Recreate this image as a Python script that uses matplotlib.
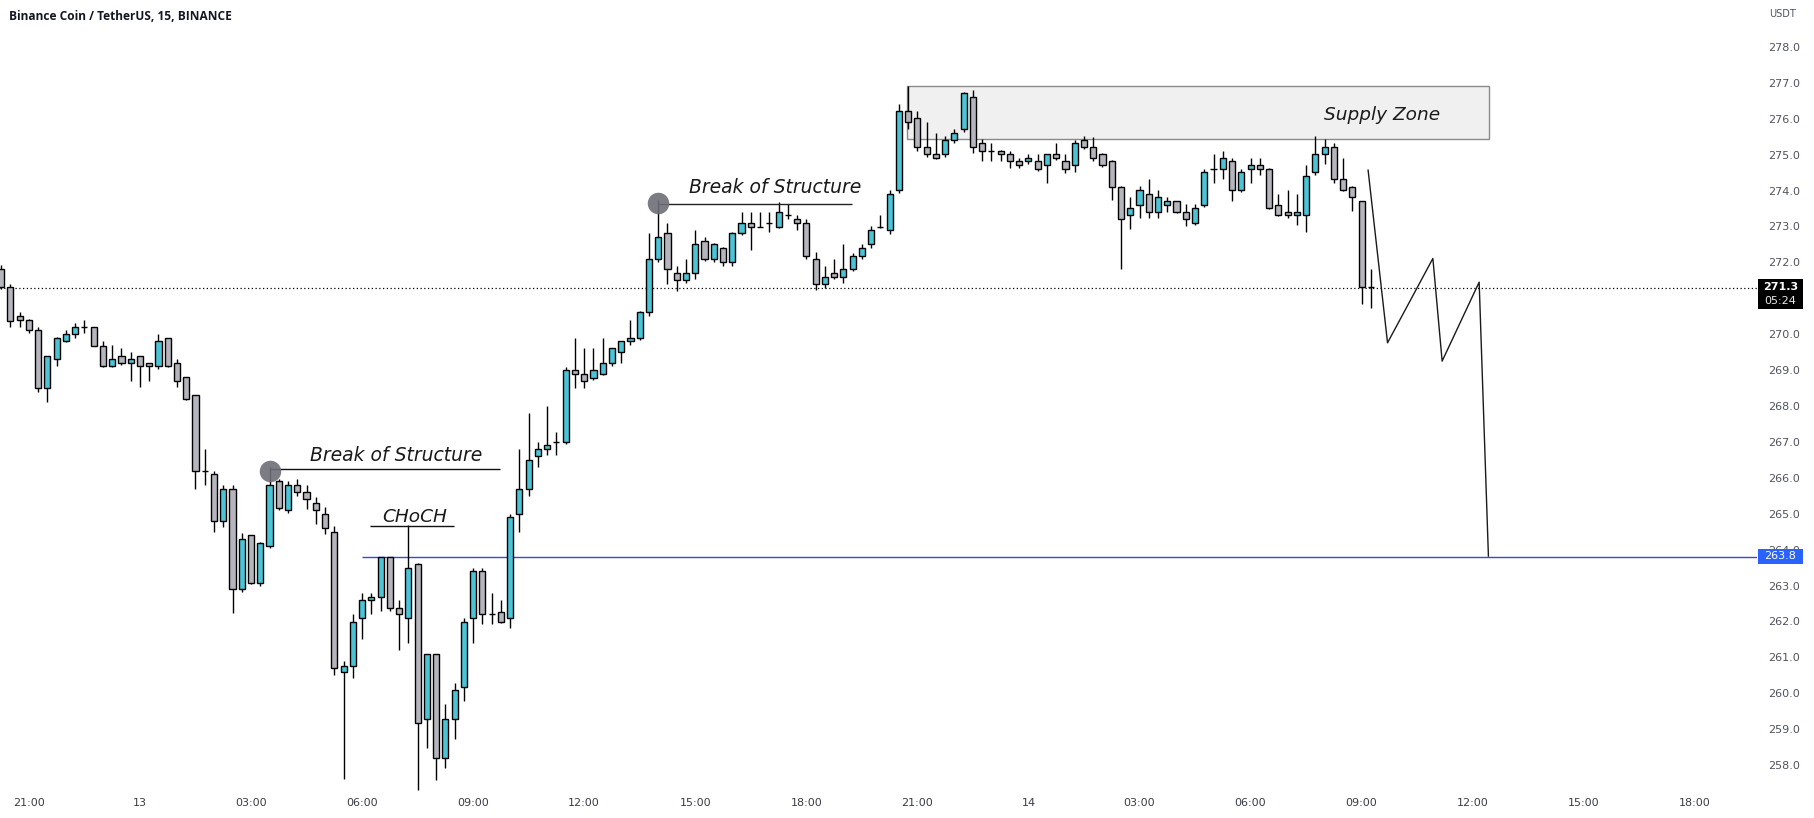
import numpy as np
import matplotlib
matplotlib.use("Agg")
import matplotlib.pyplot as plt
from matplotlib.patches import Rectangle
import matplotlib.transforms as mtransforms

# ---------------- data ----------------
first_index = -3  # candle index relative to 21:00 (day 12), 15-minute bars

opens = [
    271.81, 271.31, 270.50, 270.39, 270.11, 268.49, 269.30, 269.80, 270.00, 270.19,
    270.19, 269.68, 269.11, 269.38, 269.19, 269.38, 269.19, 269.11, 269.89, 269.19,
    268.80, 268.30, 266.18, 266.10, 264.79, 265.68, 262.89, 264.40, 263.08, 264.10,
    265.90, 265.09, 265.79, 265.60, 265.29, 264.98, 264.48, 260.58, 260.77, 262.09,
    262.59, 262.67, 263.79, 262.38, 262.09, 263.59, 259.27, 261.08, 258.19, 259.27,
    260.18, 262.09, 263.39, 262.20, 262.27, 262.09, 264.98, 265.68, 266.60, 266.79,
    266.99, 266.99, 269.00, 268.88, 268.79, 268.88, 269.19, 269.50, 269.80, 269.89,
    270.61, 272.09, 272.81, 271.70, 271.50, 271.70, 272.59, 272.09, 272.39, 272.00,
    272.81, 273.09, 273.00, 273.11, 273.00, 273.31, 273.20, 273.09, 272.09, 271.39,
    271.70, 271.59, 271.81, 272.19, 272.50, 273.00, 272.90, 274.01, 276.21, 276.01,
    275.21, 275.01, 275.01, 275.40, 275.71, 276.60, 275.32, 275.09, 275.09, 275.01,
    274.82, 274.82, 274.82, 274.70, 275.01, 274.82, 274.70, 275.40, 275.21, 275.01,
    274.82, 274.09, 273.31, 273.59, 273.90, 273.40, 273.59, 273.70, 273.40, 273.09,
    273.59, 274.59, 274.59, 274.82, 274.01, 274.59, 274.70, 274.59, 273.59, 273.40,
    273.31, 273.31, 274.51, 275.01, 275.21, 274.31, 274.09, 273.70, 271.31,
]
highs = [
    271.92, 271.39, 270.62, 270.42, 270.19, 269.40, 269.92, 270.12, 270.32, 270.40,
    270.20, 269.81, 269.70, 269.61, 269.50, 269.40, 269.21, 270.00, 269.90, 269.31,
    268.82, 268.32, 266.79, 266.19, 265.80, 265.80, 264.47, 264.42, 264.20, 266.31,
    265.97, 265.91, 265.97, 265.80, 265.47, 265.18, 264.66, 260.91, 262.20, 262.78,
    262.80, 263.80, 263.80, 262.59, 264.69, 263.62, 261.10, 261.10, 259.70, 260.28,
    262.09, 263.48, 263.48, 262.78, 262.59, 264.98, 266.79, 267.80, 266.99, 268.00,
    267.28, 269.09, 269.90, 269.62, 269.62, 269.90, 269.62, 269.82, 270.40, 270.65,
    272.83, 273.74, 273.11, 271.90, 272.09, 272.90, 272.70, 272.55, 272.42, 272.85,
    273.40, 273.40, 273.40, 273.40, 273.69, 273.63, 273.31, 273.20, 272.30, 271.90,
    272.09, 272.50, 272.25, 272.50, 273.01, 273.31, 274.01, 276.41, 276.91, 276.21,
    275.90, 275.60, 275.52, 275.72, 276.75, 276.80, 275.43, 275.32, 275.12, 275.09,
    274.90, 275.01, 275.01, 275.01, 275.32, 275.01, 275.40, 275.52, 275.50, 275.05,
    274.85, 274.12, 273.81, 274.12, 274.31, 274.01, 273.81, 273.72, 273.62, 273.62,
    274.60, 275.01, 275.09, 274.90, 274.60, 274.90, 274.90, 274.62, 273.90, 274.01,
    273.90, 274.70, 275.52, 275.43, 275.33, 274.90, 274.12, 273.72, 271.81,
]
lows = [
    271.25, 270.21, 270.21, 270.03, 268.40, 268.12, 269.11, 269.78, 269.90, 270.03,
    269.66, 269.09, 269.09, 269.14, 268.70, 268.52, 268.70, 269.02, 269.09, 268.52,
    268.17, 265.70, 265.81, 264.50, 264.62, 262.23, 262.81, 263.03, 263.00, 264.05,
    265.10, 265.01, 265.50, 265.12, 264.70, 264.43, 260.51, 257.60, 260.41, 261.50,
    262.21, 262.30, 262.30, 261.20, 261.41, 257.30, 258.47, 257.58, 257.91, 258.72,
    259.78, 261.41, 261.93, 261.93, 261.95, 261.81, 264.50, 265.50, 266.31, 266.63,
    266.63, 266.94, 268.51, 268.51, 268.72, 268.85, 269.12, 269.21, 269.70, 269.85,
    270.51, 272.02, 271.40, 271.21, 271.42, 271.53, 272.05, 272.00, 271.91, 271.91,
    272.75, 272.35, 273.00, 272.84, 272.95, 273.21, 272.90, 272.10, 271.23, 271.30,
    271.55, 271.42, 271.75, 272.10, 272.40, 272.95, 272.80, 273.92, 275.72, 275.11,
    274.93, 274.88, 274.93, 275.32, 275.62, 275.04, 274.83, 274.83, 274.83, 274.62,
    274.62, 274.73, 274.55, 274.22, 274.85, 274.50, 274.53, 275.15, 274.82, 274.65,
    273.74, 271.82, 272.92, 273.23, 273.23, 273.23, 273.40, 273.38, 273.01, 273.05,
    273.53, 274.22, 274.32, 273.72, 273.95, 274.22, 274.43, 273.50, 273.28, 273.23,
    273.03, 272.84, 274.43, 274.73, 274.22, 274.00, 273.42, 270.83, 270.72,
]
closes = [
    271.31, 270.38, 270.39, 270.12, 268.49, 269.38, 269.89, 270.00, 270.19, 270.19,
    269.68, 269.11, 269.31, 269.19, 269.31, 269.11, 269.11, 269.81, 269.11, 268.69,
    268.19, 266.18, 266.18, 264.79, 265.69, 262.89, 264.29, 263.08, 264.17, 265.79,
    265.17, 265.79, 265.60, 265.40, 265.09, 264.59, 260.69, 260.77, 261.97, 262.59,
    262.67, 263.79, 262.38, 262.20, 263.48, 259.18, 261.08, 258.19, 259.27, 260.08,
    261.97, 263.39, 262.20, 262.20, 261.98, 264.90, 265.68, 266.49, 266.79, 266.90,
    266.99, 269.00, 268.88, 268.70, 269.00, 269.21, 269.61, 269.80, 269.89, 270.61,
    272.09, 272.70, 271.81, 271.50, 271.70, 272.50, 272.09, 272.50, 272.00, 272.81,
    273.09, 273.00, 273.00, 273.11, 273.40, 273.31, 273.09, 272.19, 271.39, 271.59,
    271.59, 271.81, 272.19, 272.39, 272.90, 273.00, 273.90, 276.21, 275.90, 275.21,
    275.01, 274.90, 275.40, 275.60, 276.71, 275.21, 275.09, 275.09, 275.01, 274.82,
    274.70, 274.90, 274.59, 275.01, 274.90, 274.59, 275.32, 275.21, 274.90, 274.70,
    274.09, 273.20, 273.51, 274.01, 273.40, 273.81, 273.70, 273.40, 273.20, 273.51,
    274.51, 274.59, 274.90, 274.01, 274.51, 274.70, 274.59, 273.51, 273.31, 273.31,
    273.40, 274.40, 275.01, 275.21, 274.31, 274.01, 273.81, 271.31, 271.31,
]

time_tick_pos = [0, 12, 24, 36, 48, 60, 72, 84, 96, 108, 120, 132, 144, 156, 168, 180]
time_tick_labels = ["21:00", "13", "03:00", "06:00", "09:00", "12:00", "15:00", "18:00",
                    "21:00", "14", "03:00", "06:00", "09:00", "12:00", "15:00", "18:00"]
price_ticks = list(range(258, 279))

last_price = 271.3
countdown = "05:24"
target_price = 263.8
target_start = 36

supply_zone_x = [94.9, 157.8]
supply_zone_y = [275.43, 276.91]
supply_label_pos = (146.2, 276.1)

bos1_pt = (26, 266.2)
bos1_line = [26, 50.9, 266.24]
bos1_label_pos = (39.7, 266.63)
bos2_pt = (68, 273.65)
bos2_line = [68, 88.9, 273.62]
bos2_label_pos = (80.6, 274.09)
choch_line = [36.9, 45.9, 264.66]
choch_label_pos = (41.7, 264.92)

proj_x = [144.7, 146.8, 151.7, 152.7, 156.7, 157.7]
proj_y = [274.57, 269.76, 272.11, 269.25, 271.45, 263.82]

# ---------------- figure ----------------
W, H = 1814, 818
fig = plt.figure(figsize=(W / 100, H / 100), dpi=100)
fig.patch.set_facecolor("white")
plot_right = 1757
plot_bottom = 792
ax = fig.add_axes([0, (H - plot_bottom) / H, plot_right / W, plot_bottom / H])
ax.set_facecolor("white")

x_per = 9.255
x0 = 28.9
ax.set_xlim(-x0 / x_per, (plot_right - x0) / x_per)
ppu = 35.9
ax.set_ylim(278 - (plot_bottom - 47) / ppu, 278 + 47 / ppu)

for s in ax.spines.values():
    s.set_visible(False)

CYAN = "#4cc4d6"
GRAY = "#b5b5bd"
idx = np.arange(first_index, first_index + len(opens))
o = np.array(opens); h = np.array(highs); l = np.array(lows); c = np.array(closes)

ax.vlines(idx, l, h, color="black", lw=1.0, zorder=3)
colors = [CYAN if cc > oo else GRAY for oo, cc in zip(o, c)]
bottoms = np.minimum(o, c)
heights = np.abs(c - o)
ax.bar(idx, heights, bottom=bottoms, width=0.66, color=colors,
       edgecolor="black", linewidth=1.0, zorder=4)

# supply zone
ax.add_patch(Rectangle((supply_zone_x[0], supply_zone_y[0]),
                       supply_zone_x[1] - supply_zone_x[0],
                       supply_zone_y[1] - supply_zone_y[0],
                       facecolor="#f0f0f0", edgecolor="#8a8a8a", lw=1.0, zorder=1))
ax.text(supply_label_pos[0], supply_label_pos[1], "Supply Zone",
        style="italic", fontsize=13.3, color="#1a1a1a", ha="center", va="center", zorder=6)

# last price dotted line
ax.axhline(last_price, color="black", lw=0.9, ls=(0, (1, 2)), zorder=2)
# target line
ax.hlines(target_price, target_start, ax.get_xlim()[1], color="#3949d6", lw=1.0, zorder=2)

# BOS / CHoCH annotations
ax.hlines(bos1_line[2], bos1_line[0], bos1_line[1], color="#111111", lw=1.0, zorder=5)
ax.hlines(bos2_line[2], bos2_line[0], bos2_line[1], color="#222222", lw=1.0, zorder=5)
ax.scatter([bos1_pt[0], bos2_pt[0]], [bos1_pt[1], bos2_pt[1]], s=240,
           color="#6e6e78", alpha=0.9, zorder=6, linewidths=0)
ax.text(*bos1_label_pos, "Break of Structure", style="italic", fontsize=13.5,
        color="#1a1a1a", ha="center", va="center", zorder=6)
ax.text(*bos2_label_pos, "Break of Structure", style="italic", fontsize=13.5,
        color="#1a1a1a", ha="center", va="center", zorder=6)
ax.hlines(choch_line[2], choch_line[0], choch_line[1], color="#111111", lw=1.0, zorder=5)
ax.text(*choch_label_pos, "CHoCH", style="italic", fontsize=13.3,
        color="#1a1a1a", ha="center", va="center", zorder=6)

# projection zigzag
ax.plot(proj_x, proj_y, color="#1a1a1a", lw=1.0, zorder=5)

# axes ticks
ax.yaxis.tick_right()
ax.set_yticks(price_ticks)
ax.set_yticklabels([f"{p:.1f}" for p in price_ticks])
ax.tick_params(axis="y", length=0, pad=8, labelsize=8, labelcolor="#50535e")
ax.set_xticks(time_tick_pos)
ax.set_xticklabels(time_tick_labels)
ax.tick_params(axis="x", length=0, pad=4, labelsize=8, labelcolor="#3a3d46")

# price labels on the axis
trans = mtransforms.blended_transform_factory(ax.transAxes, ax.transData)
bx0 = (1758 / plot_right)
bw = (1803 - 1758) / plot_right
ax.add_patch(Rectangle((bx0, 270.70), bw, 0.83, transform=trans, facecolor="black",
                       edgecolor="none", clip_on=False, zorder=10))
ax.text(bx0 + bw / 2, 271.32, f"{last_price:.1f}", transform=trans, color="white",
        fontsize=8, fontweight="bold", ha="center", va="center", clip_on=False, zorder=11)
ax.text(bx0 + bw / 2, 270.93, countdown, transform=trans, color="#e8e8e8",
        fontsize=8, ha="center", va="center", clip_on=False, zorder=11)
ax.add_patch(Rectangle((bx0, 263.59), bw, 0.44, transform=trans, facecolor="#2962ff",
                       edgecolor="none", clip_on=False, zorder=10))
ax.text(bx0 + bw / 2, 263.81, f"{target_price:.1f}", transform=trans, color="white",
        fontsize=8, ha="center", va="center", clip_on=False, zorder=11)

# the 264.0 tick label is mostly hidden behind the target price box
clip_rect = Rectangle((bx0 - 0.01, 264.03), bw + 0.05, 1.0, transform=trans)
fig.canvas.draw()
for lab in ax.get_yticklabels():
    if lab.get_text() == "264.0":
        lab.set_clip_path(clip_rect)

# header texts
fig.text(9 / W, 1 - 16 / H, "Binance Coin / TetherUS, 15, BINANCE", fontsize=8.6,
         fontweight="bold", family="Open Sans", color="#131722", ha="left", va="center")
fig.text(1782 / W, 1 - 14 / H, "USDT", fontsize=7, color="#50535e",
         ha="center", va="center")

fig.savefig("out.png", dpi=100, facecolor="white")
